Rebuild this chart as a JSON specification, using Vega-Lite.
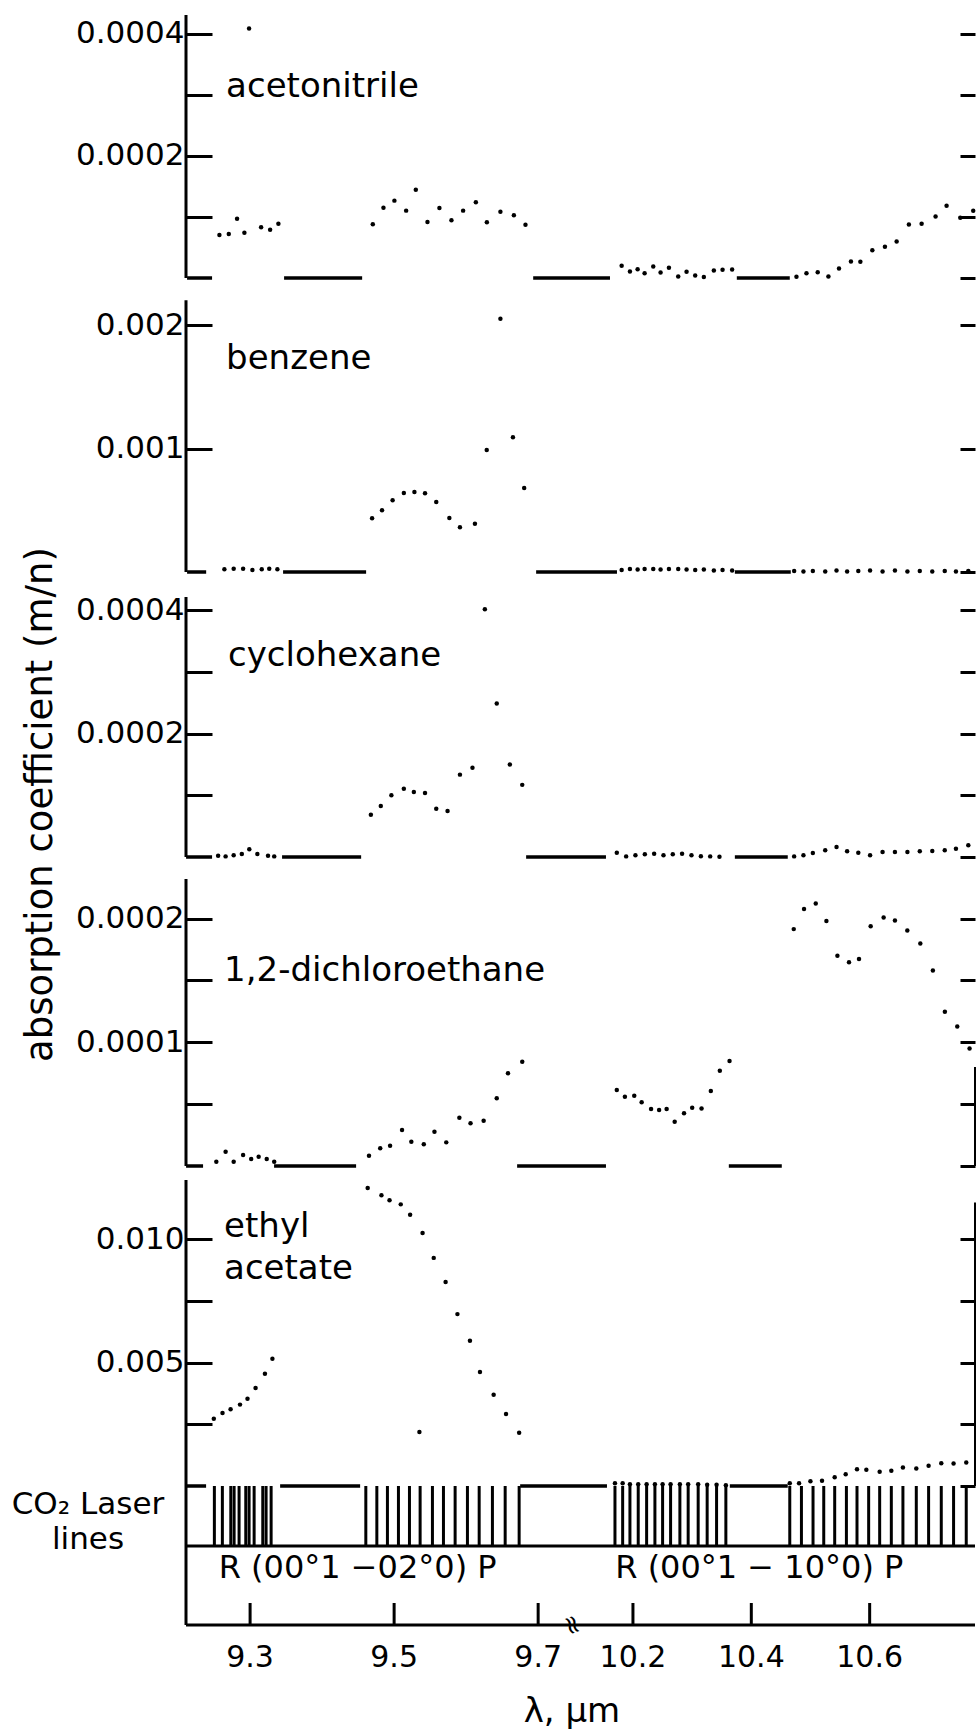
{
"$schema": "https://vega.github.io/schema/vega-lite/v6.json",
"padding": {"left": 11, "top": 13, "right": 0, "bottom": 0},
"background": "white",
"config": {"view": {"stroke": null}, "font": "DejaVu Sans",
  "axis": {"labelFont": "DejaVu Sans", "titleFont": "DejaVu Sans", "labelColor": "black", "titleColor": "black", "tickColor": "black", "domainColor": "black", "grid": false, "titleFontWeight": "normal", "labelFlush": false, "labelOverlap": false},
  "text": {"font": "DejaVu Sans", "color": "black"}},
"datasets": {
"pts": [
{"p":"acet","wl":9.2574,"v":7.05e-5},{"p":"acet","wl":9.2704,"v":7.2e-5},{"p":"acet","wl":9.2819,"v":9.7e-5},{"p":"acet","wl":9.2921,"v":7.4e-5},{"p":"acet","wl":9.3153,"v":8.3e-5},{"p":"acet","wl":9.3278,"v":7.9e-5},{"p":"acet","wl":9.3393,"v":8.9e-5},{"p":"acet","wl":9.2986,"v":4.09e-4},
{"p":"acet","wl":9.4704,"v":8.8e-5},{"p":"acet","wl":9.4852,"v":1.153e-4},{"p":"acet","wl":9.5004,"v":1.268e-4},{"p":"acet","wl":9.5167,"v":1.104e-4},{"p":"acet","wl":9.5301,"v":1.448e-4},{"p":"acet","wl":9.5463,"v":9.18e-5},{"p":"acet","wl":9.5629,"v":1.148e-4},{"p":"acet","wl":9.5796,"v":9.46e-5},{"p":"acet","wl":9.5958,"v":1.104e-4},{"p":"acet","wl":9.6135,"v":1.241e-4},{"p":"acet","wl":9.6288,"v":9.13e-5},{"p":"acet","wl":9.6476,"v":1.087e-4},{"p":"acet","wl":9.6663,"v":1.028e-4},{"p":"acet","wl":9.6824,"v":8.74e-5},
{"p":"acet","wl":10.1809,"v":2.0e-5},{"p":"acet","wl":10.1949,"v":1.07e-5},{"p":"acet","wl":10.2079,"v":1.44e-5},{"p":"acet","wl":10.2197,"v":7.9e-6},{"p":"acet","wl":10.2343,"v":1.89e-5},{"p":"acet","wl":10.2467,"v":9.0e-6},{"p":"acet","wl":10.2608,"v":1.67e-5},{"p":"acet","wl":10.2765,"v":2.5e-6},{"p":"acet","wl":10.2906,"v":1.02e-5},{"p":"acet","wl":10.3052,"v":4.1e-6},{"p":"acet","wl":10.3198,"v":1.5e-6},{"p":"acet","wl":10.3367,"v":1.23e-5},{"p":"acet","wl":10.3514,"v":1.34e-5},{"p":"acet","wl":10.3676,"v":1.39e-5},
{"p":"acet","wl":10.4763,"v":2e-6},{"p":"acet","wl":10.4932,"v":7.9e-6},{"p":"acet","wl":10.5122,"v":9.5e-6},{"p":"acet","wl":10.5303,"v":2.5e-6},{"p":"acet","wl":10.5482,"v":1.56e-5},{"p":"acet","wl":10.5684,"v":2.71e-5},{"p":"acet","wl":10.5843,"v":2.66e-5},{"p":"acet","wl":10.6045,"v":4.56e-5},{"p":"acet","wl":10.6258,"v":5.12e-5},{"p":"acet","wl":10.6456,"v":5.99e-5},{"p":"acet","wl":10.6663,"v":8.77e-5},{"p":"acet","wl":10.6878,"v":8.89e-5},{"p":"acet","wl":10.7114,"v":1.009e-4},{"p":"acet","wl":10.73,"v":1.184e-4},{"p":"acet","wl":10.7531,"v":9.87e-5},{"p":"acet","wl":10.775,"v":1.102e-4},

{"p":"benz","wl":9.2643,"v":2.2e-5},{"p":"benz","wl":9.2772,"v":2.7e-5},{"p":"benz","wl":9.2903,"v":2.7e-5},{"p":"benz","wl":9.3032,"v":1.6e-5},{"p":"benz","wl":9.3162,"v":2.2e-5},{"p":"benz","wl":9.3266,"v":2.7e-5},{"p":"benz","wl":9.3379,"v":2.2e-5},
{"p":"benz","wl":9.4694,"v":4.35e-4},{"p":"benz","wl":9.4832,"v":5.0e-4},{"p":"benz","wl":9.4979,"v":5.81e-4},{"p":"benz","wl":9.5135,"v":6.4e-4},{"p":"benz","wl":9.5282,"v":6.48e-4},{"p":"benz","wl":9.5429,"v":6.37e-4},{"p":"benz","wl":9.5585,"v":5.67e-4},{"p":"benz","wl":9.5767,"v":4.37e-4},{"p":"benz","wl":9.5914,"v":3.62e-4},{"p":"benz","wl":9.6122,"v":3.91e-4},{"p":"benz","wl":9.6286,"v":9.88e-4},{"p":"benz","wl":9.6476,"v":2.05e-3},{"p":"benz","wl":9.665,"v":1.091e-3},{"p":"benz","wl":9.6806,"v":6.8e-4},
{"p":"benz","wl":10.1809,"v":1.6e-5},{"p":"benz","wl":10.1949,"v":2.4e-5},{"p":"benz","wl":10.2079,"v":2.0e-5},{"p":"benz","wl":10.2197,"v":2.4e-5},{"p":"benz","wl":10.2343,"v":2.4e-5},{"p":"benz","wl":10.2467,"v":2.0e-5},{"p":"benz","wl":10.2608,"v":2.4e-5},{"p":"benz","wl":10.2765,"v":2.4e-5},{"p":"benz","wl":10.2906,"v":2.0e-5},{"p":"benz","wl":10.3052,"v":1.6e-5},{"p":"benz","wl":10.3198,"v":2.0e-5},{"p":"benz","wl":10.3367,"v":1.2e-5},{"p":"benz","wl":10.3514,"v":1.6e-5},{"p":"benz","wl":10.3676,"v":1.2e-5},
{"p":"benz","wl":10.4724,"v":8e-6},{"p":"benz","wl":10.4881,"v":4e-6},{"p":"benz","wl":10.504,"v":8e-6},{"p":"benz","wl":10.5249,"v":4e-6},{"p":"benz","wl":10.544,"v":1.2e-5},{"p":"benz","wl":10.5619,"v":4e-6},{"p":"benz","wl":10.5808,"v":8e-6},{"p":"benz","wl":10.6007,"v":1.2e-5},{"p":"benz","wl":10.6218,"v":4e-6},{"p":"benz","wl":10.6427,"v":1.2e-5},{"p":"benz","wl":10.6638,"v":4e-6},{"p":"benz","wl":10.6847,"v":8e-6},{"p":"benz","wl":10.7058,"v":4e-6},{"p":"benz","wl":10.7269,"v":8e-6},{"p":"benz","wl":10.7458,"v":4e-6},{"p":"benz","wl":10.7667,"v":8e-6},

{"p":"cyc","wl":9.2556,"v":2e-6},{"p":"cyc","wl":9.266,"v":1e-6},{"p":"cyc","wl":9.2772,"v":3e-6},{"p":"cyc","wl":9.2885,"v":5e-6},{"p":"cyc","wl":9.2989,"v":1.25e-5},{"p":"cyc","wl":9.3101,"v":5e-6},{"p":"cyc","wl":9.3249,"v":2e-6},{"p":"cyc","wl":9.3335,"v":1e-6},
{"p":"cyc","wl":9.4677,"v":6.86e-5},{"p":"cyc","wl":9.4815,"v":8.27e-5},{"p":"cyc","wl":9.4962,"v":1.0e-4},{"p":"cyc","wl":9.5135,"v":1.108e-4},{"p":"cyc","wl":9.5274,"v":1.054e-4},{"p":"cyc","wl":9.5429,"v":1.038e-4},{"p":"cyc","wl":9.5585,"v":7.84e-5},{"p":"cyc","wl":9.5742,"v":7.46e-5},{"p":"cyc","wl":9.5914,"v":1.336e-4},{"p":"cyc","wl":9.6088,"v":1.449e-4},{"p":"cyc","wl":9.626,"v":4.02e-4},{"p":"cyc","wl":9.6425,"v":2.49e-4},{"p":"cyc","wl":9.6607,"v":1.5e-4},{"p":"cyc","wl":9.6779,"v":1.17e-4},
{"p":"cyc","wl":10.1727,"v":7e-6},{"p":"cyc","wl":10.1885,"v":1e-6},{"p":"cyc","wl":10.2042,"v":2.7e-6},{"p":"cyc","wl":10.2201,"v":4.3e-6},{"p":"cyc","wl":10.2358,"v":5.4e-6},{"p":"cyc","wl":10.2516,"v":2.7e-6},{"p":"cyc","wl":10.2673,"v":4.3e-6},{"p":"cyc","wl":10.283,"v":5.4e-6},{"p":"cyc","wl":10.2989,"v":2.7e-6},{"p":"cyc","wl":10.3148,"v":1.1e-6},{"p":"cyc","wl":10.3305,"v":1e-6},{"p":"cyc","wl":10.3462,"v":5e-7},
{"p":"cyc","wl":10.4724,"v":1e-6},{"p":"cyc","wl":10.4881,"v":2.7e-6},{"p":"cyc","wl":10.504,"v":6.5e-6},{"p":"cyc","wl":10.5249,"v":1.08e-5},{"p":"cyc","wl":10.544,"v":1.62e-5},{"p":"cyc","wl":10.5619,"v":9.2e-6},{"p":"cyc","wl":10.5808,"v":7.0e-6},{"p":"cyc","wl":10.6007,"v":2.7e-6},{"p":"cyc","wl":10.6218,"v":8.1e-6},{"p":"cyc","wl":10.6427,"v":8.1e-6},{"p":"cyc","wl":10.6638,"v":8.1e-6},{"p":"cyc","wl":10.6847,"v":9.2e-6},{"p":"cyc","wl":10.7058,"v":9.7e-6},{"p":"cyc","wl":10.7269,"v":1.08e-5},{"p":"cyc","wl":10.7458,"v":1.35e-5},{"p":"cyc","wl":10.7667,"v":1.89e-5},

{"p":"dce","wl":9.2531,"v":3.5e-6},{"p":"dce","wl":9.266,"v":1.16e-5},{"p":"dce","wl":9.2772,"v":3.5e-6},{"p":"dce","wl":9.2903,"v":8.9e-6},{"p":"dce","wl":9.3015,"v":5.7e-6},{"p":"dce","wl":9.3119,"v":7.5e-6},{"p":"dce","wl":9.3231,"v":5.7e-6},{"p":"dce","wl":9.3335,"v":3.5e-6},
{"p":"dce","wl":9.4651,"v":8.3e-6},{"p":"dce","wl":9.4807,"v":1.43e-5},{"p":"dce","wl":9.4944,"v":1.64e-5},{"p":"dce","wl":9.511,"v":2.91e-5},{"p":"dce","wl":9.5239,"v":1.96e-5},{"p":"dce","wl":9.5412,"v":1.75e-5},{"p":"dce","wl":9.556,"v":2.77e-5},{"p":"dce","wl":9.5724,"v":1.91e-5},{"p":"dce","wl":9.5906,"v":3.9e-5},{"p":"dce","wl":9.6061,"v":3.45e-5},{"p":"dce","wl":9.6243,"v":3.66e-5},{"p":"dce","wl":9.6425,"v":5.47e-5},{"p":"dce","wl":9.6581,"v":7.49e-5},{"p":"dce","wl":9.6779,"v":8.43e-5},
{"p":"dce","wl":10.1727,"v":6.14e-5},{"p":"dce","wl":10.1864,"v":5.6e-5},{"p":"dce","wl":10.2022,"v":5.68e-5},{"p":"dce","wl":10.2147,"v":5.15e-5},{"p":"dce","wl":10.2306,"v":4.61e-5},{"p":"dce","wl":10.2442,"v":4.52e-5},{"p":"dce","wl":10.2569,"v":4.61e-5},{"p":"dce","wl":10.2705,"v":3.58e-5},{"p":"dce","wl":10.2863,"v":4.26e-5},{"p":"dce","wl":10.3001,"v":4.71e-5},{"p":"dce","wl":10.3159,"v":4.65e-5},{"p":"dce","wl":10.3316,"v":6.06e-5},{"p":"dce","wl":10.3468,"v":7.7e-5},{"p":"dce","wl":10.3632,"v":8.48e-5},
{"p":"dce","wl":10.4717,"v":1.915e-4},{"p":"dce","wl":10.4891,"v":2.077e-4},{"p":"dce","wl":10.5089,"v":2.122e-4},{"p":"dce","wl":10.5269,"v":1.98e-4},{"p":"dce","wl":10.5455,"v":1.699e-4},{"p":"dce","wl":10.5651,"v":1.648e-4},{"p":"dce","wl":10.582,"v":1.673e-4},{"p":"dce","wl":10.6017,"v":1.939e-4},{"p":"dce","wl":10.6236,"v":2.009e-4},{"p":"dce","wl":10.6427,"v":1.984e-4},{"p":"dce","wl":10.6636,"v":1.904e-4},{"p":"dce","wl":10.6856,"v":1.799e-4},{"p":"dce","wl":10.7068,"v":1.58e-4},{"p":"dce","wl":10.7271,"v":1.247e-4},{"p":"dce","wl":10.748,"v":1.128e-4},{"p":"dce","wl":10.7688,"v":9.5e-5},

{"p":"ea","wl":9.2496,"v":2.73e-3},{"p":"ea","wl":9.2617,"v":2.96e-3},{"p":"ea","wl":9.2729,"v":3.11e-3},{"p":"ea","wl":9.286,"v":3.3e-3},{"p":"ea","wl":9.2964,"v":3.54e-3},{"p":"ea","wl":9.3076,"v":3.97e-3},{"p":"ea","wl":9.3206,"v":4.55e-3},{"p":"ea","wl":9.331,"v":5.16e-3},
{"p":"ea","wl":9.4633,"v":1.208e-2},{"p":"ea","wl":9.4824,"v":1.179e-2},{"p":"ea","wl":9.4936,"v":1.159e-2},{"p":"ea","wl":9.5092,"v":1.142e-2},{"p":"ea","wl":9.5222,"v":1.1e-2},{"p":"ea","wl":9.5395,"v":1.026e-2},{"p":"ea","wl":9.555,"v":9.25e-3},{"p":"ea","wl":9.5715,"v":8.27e-3},{"p":"ea","wl":9.5879,"v":6.97e-3},{"p":"ea","wl":9.6053,"v":5.89e-3},{"p":"ea","wl":9.6192,"v":4.62e-3},{"p":"ea","wl":9.6382,"v":3.7e-3},{"p":"ea","wl":9.6554,"v":2.92e-3},{"p":"ea","wl":9.6736,"v":2.16e-3},{"p":"ea","wl":9.5351,"v":2.19e-3},
{"p":"ea","wl":10.1696,"v":1.1e-4},{"p":"ea","wl":10.1826,"v":1.1e-4},{"p":"ea","wl":10.1949,"v":7.3e-5},{"p":"ea","wl":10.2089,"v":7.3e-5},{"p":"ea","wl":10.2231,"v":7.3e-5},{"p":"ea","wl":10.2371,"v":7.3e-5},{"p":"ea","wl":10.2501,"v":7.3e-5},{"p":"ea","wl":10.2636,"v":7.3e-5},{"p":"ea","wl":10.2793,"v":7.3e-5},{"p":"ea","wl":10.2933,"v":7.3e-5},{"p":"ea","wl":10.3102,"v":7.3e-5},{"p":"ea","wl":10.3254,"v":4.9e-5},{"p":"ea","wl":10.3413,"v":4.9e-5},{"p":"ea","wl":10.357,"v":3.2e-5},
{"p":"ea","wl":10.465,"v":1.1e-4},{"p":"ea","wl":10.4807,"v":1.1e-4},{"p":"ea","wl":10.4999,"v":1.95e-4},{"p":"ea","wl":10.5195,"v":2.1e-4},{"p":"ea","wl":10.5409,"v":3.57e-4},{"p":"ea","wl":10.5595,"v":4.78e-4},{"p":"ea","wl":10.5786,"v":6.81e-4},{"p":"ea","wl":10.5944,"v":6.57e-4},{"p":"ea","wl":10.6169,"v":5.76e-4},{"p":"ea","wl":10.6366,"v":6.16e-4},{"p":"ea","wl":10.6562,"v":7.5e-4},{"p":"ea","wl":10.6788,"v":7.1e-4},{"p":"ea","wl":10.6996,"v":8.19e-4},{"p":"ea","wl":10.721,"v":9.25e-4},{"p":"ea","wl":10.7418,"v":9.12e-4},{"p":"ea","wl":10.7632,"v":9.53e-4}
],
"gaps": [
{"p":"acet","a":9.2125,"b":9.2472},{"p":"acet","a":9.3472,"b":9.4556},{"p":"acet","a":9.6931,"b":10.1612},{"p":"acet","a":10.3755,"b":10.465},
{"p":"benz","a":9.2125,"b":9.239},{"p":"benz","a":9.3458,"b":9.4611},{"p":"benz","a":9.6972,"b":10.173},{"p":"benz","a":10.3722,"b":10.4667},
{"p":"cyc","a":9.2111,"b":9.2472},{"p":"cyc","a":9.3444,"b":9.4542},{"p":"cyc","a":9.6833,"b":10.1544},{"p":"cyc","a":10.3722,"b":10.4616},
{"p":"dce","a":9.2111,"b":9.2347},{"p":"dce","a":9.3333,"b":9.4472},{"p":"dce","a":9.6708,"b":10.1544},{"p":"dce","a":10.362,"b":10.4515},
{"p":"ea","a":9.2111,"b":9.2389},{"p":"ea","a":9.3417,"b":9.4528},{"p":"ea","a":9.675,"b":10.1561},{"p":"ea","a":10.3637,"b":10.4616}
],
"laser": [
{"wl":9.2504},{"wl":9.2615},{"wl":9.2732},{"wl":9.2778},{"wl":9.2847},{"wl":9.294},{"wl":9.2986},{"wl":9.3056},{"wl":9.3176},{"wl":9.3222},{"wl":9.3292},
{"wl":9.4607},{"wl":9.476},{"wl":9.4907},{"wl":9.506},{"wl":9.5213},{"wl":9.5361},{"wl":9.5532},{"wl":9.5685},{"wl":9.5847},{"wl":9.6018},{"wl":9.6181},{"wl":9.6365},{"wl":9.6542},{"wl":9.6736},
{"wl":10.1696},{"wl":10.1826},{"wl":10.1949},{"wl":10.2089},{"wl":10.2231},{"wl":10.2371},{"wl":10.2501},{"wl":10.2636},{"wl":10.2793},{"wl":10.2933},{"wl":10.3102},{"wl":10.3254},{"wl":10.3413},{"wl":10.357},
{"wl":10.465},{"wl":10.4847},{"wl":10.5043},{"wl":10.5224},{"wl":10.5409},{"wl":10.5607},{"wl":10.5786},{"wl":10.5983},{"wl":10.6169},{"wl":10.6366},{"wl":10.6562},{"wl":10.6788},{"wl":10.6996},{"wl":10.721},{"wl":10.7418},{"wl":10.7632}
],
"xticks": [{"t": 9.3}, {"t": 9.5}, {"t": 9.7}, {"t": 10.2}, {"t": 10.4}, {"t": 10.6}]
},
"spacing": 0,
"bounds": "flush",
"resolve": {"scale": {"x": "independent", "y": "independent"}},
"vconcat": [
{
 "width": 789, "height": 263,
 "resolve": {"axis": {"y": "independent"}},
 "layer": [
  {"data": {"name": "pts"}, "transform": [{"filter": "datum.p == 'acet'"}],
   "mark": {"type": "circle", "size": 20, "color": "black", "opacity": 1},
   "encoding": {
    "x": {"field": "wl", "type": "quantitative", "axis": null, "scale": {"type": "linear", "domain": [9.211, 9.747, 10.097, 10.778], "range": [0, 386, 386, 789], "nice": false, "zero": false}},
    "y": {"field": "v", "type": "quantitative", "scale": {"domain": [0, 0.000431], "nice": false, "zero": false},
      "axis": {"orient": "left", "values": [0.0001, 0.0002, 0.0003, 0.0004], "format": ".4f", "labelExpr": "datum.value == 0.0002 || datum.value == 0.0004 ? datum.label : ''", "tickSize": -26, "tickWidth": 3, "domain": false, "labelPadding": 28, "labelFontSize": 31, "title": null}}}},
  {"data": {"name": "gaps"}, "transform": [{"filter": "datum.p == 'acet'"}],
   "mark": {"type": "rule", "strokeWidth": 3.5, "color": "black"},
   "encoding": {
    "x": {"field": "a", "type": "quantitative", "axis": null}, "x2": {"field": "b"},
    "y": {"datum": 0, "type": "quantitative", "axis": {"orient": "right", "values": [0, 0.0001, 0.0002, 0.0003, 0.0004], "tickSize": -15, "tickWidth": 3, "labels": false, "domain": false, "title": null}}}},
  {"data": {"values": [{}]},
   "mark": {"type": "rule", "strokeWidth": 3, "color": "black"},
   "encoding": {"x": {"datum": 9.211, "type": "quantitative", "axis": null}, "y": {"datum": 0, "type": "quantitative", "axis": null}, "y2": {"datum": 0.000431}}},
  {"data": {"values": [{}]},
   "mark": {"type": "text", "text": "acetonitrile", "align": "left", "baseline": "alphabetic", "fontSize": 34, "color": "black"},
   "encoding": {"x": {"datum": 9.2667, "type": "quantitative", "axis": null}, "y": {"datum": 0.000297, "type": "quantitative", "axis": null}}}
 ]
},
{
 "width": 789, "height": 294,
 "resolve": {"axis": {"y": "independent"}},
 "layer": [
  {"data": {"name": "pts"}, "transform": [{"filter": "datum.p == 'benz'"}],
   "mark": {"type": "circle", "size": 20, "color": "black", "opacity": 1},
   "encoding": {
    "x": {"field": "wl", "type": "quantitative", "axis": null, "scale": {"type": "linear", "domain": [9.211, 9.747, 10.097, 10.778], "range": [0, 386, 386, 789], "nice": false, "zero": false}},
    "y": {"field": "v", "type": "quantitative", "scale": {"domain": [0, 0.0023806], "nice": false, "zero": false},
      "axis": {"orient": "left", "values": [0.001, 0.002], "format": ".3f", "tickSize": -26, "tickWidth": 3, "domain": false, "labelPadding": 28, "labelFontSize": 31, "title": null}}}},
  {"data": {"name": "gaps"}, "transform": [{"filter": "datum.p == 'benz'"}],
   "mark": {"type": "rule", "strokeWidth": 3.5, "color": "black"},
   "encoding": {
    "x": {"field": "a", "type": "quantitative", "axis": null}, "x2": {"field": "b"},
    "y": {"datum": 0, "type": "quantitative", "axis": {"orient": "right", "values": [0, 0.001, 0.002], "tickSize": -15, "tickWidth": 3, "labels": false, "domain": false, "title": null}}}},
  {"data": {"values": [{}]},
   "mark": {"type": "rule", "strokeWidth": 3, "color": "black"},
   "encoding": {"x": {"datum": 9.211, "type": "quantitative", "axis": null}, "y": {"datum": 0, "type": "quantitative", "axis": null}, "y2": {"datum": 0.0022}}},
  {"data": {"values": [{}]},
   "mark": {"type": "text", "text": "benzene", "align": "left", "baseline": "alphabetic", "fontSize": 34, "color": "black"},
   "encoding": {"x": {"datum": 9.2667, "type": "quantitative", "axis": null}, "y": {"datum": 0.001644, "type": "quantitative", "axis": null}}}
 ]
},
{
 "width": 789, "height": 285,
 "resolve": {"axis": {"y": "independent"}},
 "layer": [
  {"data": {"name": "pts"}, "transform": [{"filter": "datum.p == 'cyc'"}],
   "mark": {"type": "circle", "size": 20, "color": "black", "opacity": 1},
   "encoding": {
    "x": {"field": "wl", "type": "quantitative", "axis": null, "scale": {"type": "linear", "domain": [9.211, 9.747, 10.097, 10.778], "range": [0, 386, 386, 789], "nice": false, "zero": false}},
    "y": {"field": "v", "type": "quantitative", "scale": {"domain": [0, 0.0004623], "nice": false, "zero": false},
      "axis": {"orient": "left", "values": [0.0001, 0.0002, 0.0003, 0.0004], "format": ".4f", "labelExpr": "datum.value == 0.0002 || datum.value == 0.0004 ? datum.label : ''", "tickSize": -26, "tickWidth": 3, "domain": false, "labelPadding": 28, "labelFontSize": 31,
        "title": "absorption coefficient (m/n)", "titleFontSize": 37, "titleX": -146, "titleY": 232, "titleAngle": -90, "titleAlign": "center", "titleBaseline": "middle"}}}},
  {"data": {"name": "gaps"}, "transform": [{"filter": "datum.p == 'cyc'"}],
   "mark": {"type": "rule", "strokeWidth": 3.5, "color": "black"},
   "encoding": {
    "x": {"field": "a", "type": "quantitative", "axis": null}, "x2": {"field": "b"},
    "y": {"datum": 0, "type": "quantitative", "axis": {"orient": "right", "values": [0, 0.0001, 0.0002, 0.0003, 0.0004], "tickSize": -15, "tickWidth": 3, "labels": false, "domain": false, "title": null}}}},
  {"data": {"values": [{}]},
   "mark": {"type": "rule", "strokeWidth": 3, "color": "black"},
   "encoding": {"x": {"datum": 9.211, "type": "quantitative", "axis": null}, "y": {"datum": 0, "type": "quantitative", "axis": null}, "y2": {"datum": 0.0004217}}},
  {"data": {"values": [{}]},
   "mark": {"type": "text", "text": "cyclohexane", "align": "left", "baseline": "alphabetic", "fontSize": 34, "color": "black"},
   "encoding": {"x": {"datum": 9.2694, "type": "quantitative", "axis": null}, "y": {"datum": 0.00031, "type": "quantitative", "axis": null}}}
 ]
},
{
 "width": 789, "height": 309,
 "resolve": {"axis": {"y": "independent"}},
 "layer": [
  {"data": {"name": "pts"}, "transform": [{"filter": "datum.p == 'dce'"}],
   "mark": {"type": "circle", "size": 20, "color": "black", "opacity": 1},
   "encoding": {
    "x": {"field": "wl", "type": "quantitative", "axis": null, "scale": {"type": "linear", "domain": [9.211, 9.747, 10.097, 10.778], "range": [0, 386, 386, 789], "nice": false, "zero": false}},
    "y": {"field": "v", "type": "quantitative", "scale": {"domain": [0, 0.0002498], "nice": false, "zero": false},
      "axis": {"orient": "left", "values": [0.00005, 0.0001, 0.00015, 0.0002], "format": ".4f", "labelExpr": "datum.value == 0.0001 || datum.value == 0.0002 ? datum.label : ''", "tickSize": -26, "tickWidth": 3, "domain": false, "labelPadding": 28, "labelFontSize": 31, "title": null}}}},
  {"data": {"name": "gaps"}, "transform": [{"filter": "datum.p == 'dce'"}],
   "mark": {"type": "rule", "strokeWidth": 3.5, "color": "black"},
   "encoding": {
    "x": {"field": "a", "type": "quantitative", "axis": null}, "x2": {"field": "b"},
    "y": {"datum": 0, "type": "quantitative", "axis": {"orient": "right", "values": [0, 0.00005, 0.0001, 0.00015, 0.0002], "tickSize": -15, "tickWidth": 3, "labels": false, "domain": false, "title": null}}}},
  {"data": {"values": [{}]},
   "mark": {"type": "rule", "strokeWidth": 3, "color": "black"},
   "encoding": {"x": {"datum": 9.211, "type": "quantitative", "axis": null}, "y": {"datum": 0, "type": "quantitative", "axis": null}, "y2": {"datum": 0.000232}}},
  {"data": {"values": [{}]},
   "mark": {"type": "rule", "strokeWidth": 2, "color": "black"},
   "encoding": {"x": {"datum": 10.778, "type": "quantitative", "axis": null}, "y": {"datum": 0, "type": "quantitative", "axis": null}, "y2": {"datum": 0.00008}}},
  {"data": {"values": [{}]},
   "mark": {"type": "text", "text": "1,2-dichloroethane", "align": "left", "baseline": "alphabetic", "fontSize": 34, "color": "black"},
   "encoding": {"x": {"datum": 9.2639, "type": "quantitative", "axis": null}, "y": {"datum": 0.0001497, "type": "quantitative", "axis": null}}}
 ]
},
{
 "width": 789, "height": 320,
 "resolve": {"axis": {"y": "independent"}},
 "layer": [
  {"data": {"name": "pts"}, "transform": [{"filter": "datum.p == 'ea'"}],
   "mark": {"type": "circle", "size": 20, "color": "black", "opacity": 1},
   "encoding": {
    "x": {"field": "wl", "type": "quantitative", "axis": null, "scale": {"type": "linear", "domain": [9.211, 9.747, 10.097, 10.778], "range": [0, 386, 386, 789], "nice": false, "zero": false}},
    "y": {"field": "v", "type": "quantitative", "scale": {"domain": [0, 0.012976], "nice": false, "zero": false},
      "axis": {"orient": "left", "values": [0.0025, 0.005, 0.0075, 0.01], "format": ".3f", "labelExpr": "datum.value == 0.005 || datum.value == 0.01 ? datum.label : ''", "tickSize": -26, "tickWidth": 3, "domain": false, "labelPadding": 28, "labelFontSize": 31, "title": null}}}},
  {"data": {"name": "gaps"}, "transform": [{"filter": "datum.p == 'ea'"}],
   "mark": {"type": "rule", "strokeWidth": 3.5, "color": "black"},
   "encoding": {
    "x": {"field": "a", "type": "quantitative", "axis": null}, "x2": {"field": "b"},
    "y": {"datum": 0, "type": "quantitative", "axis": {"orient": "right", "values": [0, 0.0025, 0.005, 0.0075, 0.01], "tickSize": -15, "tickWidth": 3, "labels": false, "domain": false, "title": null}}}},
  {"data": {"values": [{}]},
   "mark": {"type": "rule", "strokeWidth": 3, "color": "black"},
   "encoding": {"x": {"datum": 9.211, "type": "quantitative", "axis": null}, "y": {"datum": 0, "type": "quantitative", "axis": null}, "y2": {"datum": 0.012408}}},
  {"data": {"values": [{}]},
   "mark": {"type": "rule", "strokeWidth": 2, "color": "black"},
   "encoding": {"x": {"datum": 10.778, "type": "quantitative", "axis": null}, "y": {"datum": 0, "type": "quantitative", "axis": null}, "y2": {"datum": 0.0115}}},
  {"data": {"values": [{}]},
   "mark": {"type": "text", "text": "ethyl", "align": "left", "baseline": "alphabetic", "fontSize": 34, "color": "black"},
   "encoding": {"x": {"datum": 9.2639, "type": "quantitative", "axis": null}, "y": {"datum": 0.0101, "type": "quantitative", "axis": null}}},
  {"data": {"values": [{}]},
   "mark": {"type": "text", "text": "acetate", "align": "left", "baseline": "alphabetic", "fontSize": 34, "color": "black"},
   "encoding": {"x": {"datum": 9.2639, "type": "quantitative", "axis": null}, "y": {"datum": 0.00839, "type": "quantitative", "axis": null}}}
 ]
},
{
 "width": 789, "height": 139,
 "layer": [
  {"data": {"name": "laser"},
   "mark": {"type": "rule", "strokeWidth": 3, "color": "black"},
   "encoding": {
    "x": {"field": "wl", "type": "quantitative", "axis": null, "scale": {"type": "linear", "domain": [9.211, 9.747, 10.097, 10.778], "range": [0, 386, 386, 789], "nice": false, "zero": false}},
    "y": {"datum": 0, "type": "quantitative", "scale": {"domain": [-1.317, 1], "nice": false, "zero": false}, "axis": null},
    "y2": {"datum": 1}}},
  {"data": {"values": [{}]},
   "mark": {"type": "rule", "strokeWidth": 3, "color": "black"},
   "encoding": {"x": {"datum": 9.211, "type": "quantitative", "axis": null}, "x2": {"datum": 10.778}, "y": {"datum": 0, "type": "quantitative", "axis": null}}},
  {"data": {"values": [{}]},
   "mark": {"type": "rule", "strokeWidth": 3, "color": "black"},
   "encoding": {"x": {"datum": 9.211, "type": "quantitative", "axis": null}, "x2": {"datum": 10.778}, "y": {"datum": -1.317, "type": "quantitative", "axis": null}}},
  {"data": {"values": [{}]},
   "mark": {"type": "rule", "strokeWidth": 3, "color": "black"},
   "encoding": {"x": {"datum": 9.211, "type": "quantitative", "axis": null}, "y": {"datum": -1.317, "type": "quantitative", "axis": null}, "y2": {"datum": 1}}},
  {"data": {"name": "xticks"},
   "mark": {"type": "rule", "strokeWidth": 3, "color": "black"},
   "encoding": {"x": {"field": "t", "type": "quantitative", "axis": null}, "y": {"datum": -1.317, "type": "quantitative", "axis": null}, "y2": {"datum": -0.95}}},
  {"data": {"name": "xticks"},
   "mark": {"type": "text", "align": "center", "baseline": "top", "dy": 18, "fontSize": 30, "color": "black"},
   "encoding": {"x": {"field": "t", "type": "quantitative", "axis": null}, "y": {"datum": -1.317, "type": "quantitative", "axis": null},
     "text": {"field": "t", "type": "quantitative", "format": ".1f"}}},
  {"data": {"values": [{}]},
   "mark": {"type": "text", "text": "λ, µm", "align": "center", "baseline": "top", "dy": 70, "fontSize": 34, "color": "black"},
   "encoding": {"x": {"datum": 9.747, "type": "quantitative", "axis": null}, "y": {"datum": -1.317, "type": "quantitative", "axis": null}}},
  {"data": {"values": [{}]},
   "mark": {"type": "text", "text": "CO₂ Laser", "align": "center", "baseline": "top", "dy": 4, "fontSize": 31, "color": "black"},
   "encoding": {"x": {"datum": 9.0749, "type": "quantitative", "axis": null}, "y": {"datum": 1, "type": "quantitative", "axis": null}}},
  {"data": {"values": [{}]},
   "mark": {"type": "text", "text": "lines", "align": "center", "baseline": "top", "dy": 39, "fontSize": 31, "color": "black"},
   "encoding": {"x": {"datum": 9.0749, "type": "quantitative", "axis": null}, "y": {"datum": 1, "type": "quantitative", "axis": null}}},
  {"data": {"values": [{}]},
   "mark": {"type": "text", "text": "R (00°1 −02°0) P", "align": "center", "baseline": "middle", "fontSize": 32, "color": "black"},
   "encoding": {"x": {"datum": 9.4493, "type": "quantitative", "axis": null}, "y": {"datum": -0.367, "type": "quantitative", "axis": null}}},
  {"data": {"values": [{}]},
   "mark": {"type": "text", "text": "R (00°1 − 10°0) P", "align": "center", "baseline": "middle", "fontSize": 32, "color": "black"},
   "encoding": {"x": {"datum": 10.4135, "type": "quantitative", "axis": null}, "y": {"datum": -0.367, "type": "quantitative", "axis": null}}},
  {"data": {"values": [{}]},
   "mark": {"type": "text", "text": "≈", "align": "center", "baseline": "middle", "fontSize": 26, "angle": 70, "color": "black"},
   "encoding": {"x": {"datum": 9.747, "type": "quantitative", "axis": null}, "y": {"datum": -1.317, "type": "quantitative", "axis": null}}}
 ]
}
]
}
